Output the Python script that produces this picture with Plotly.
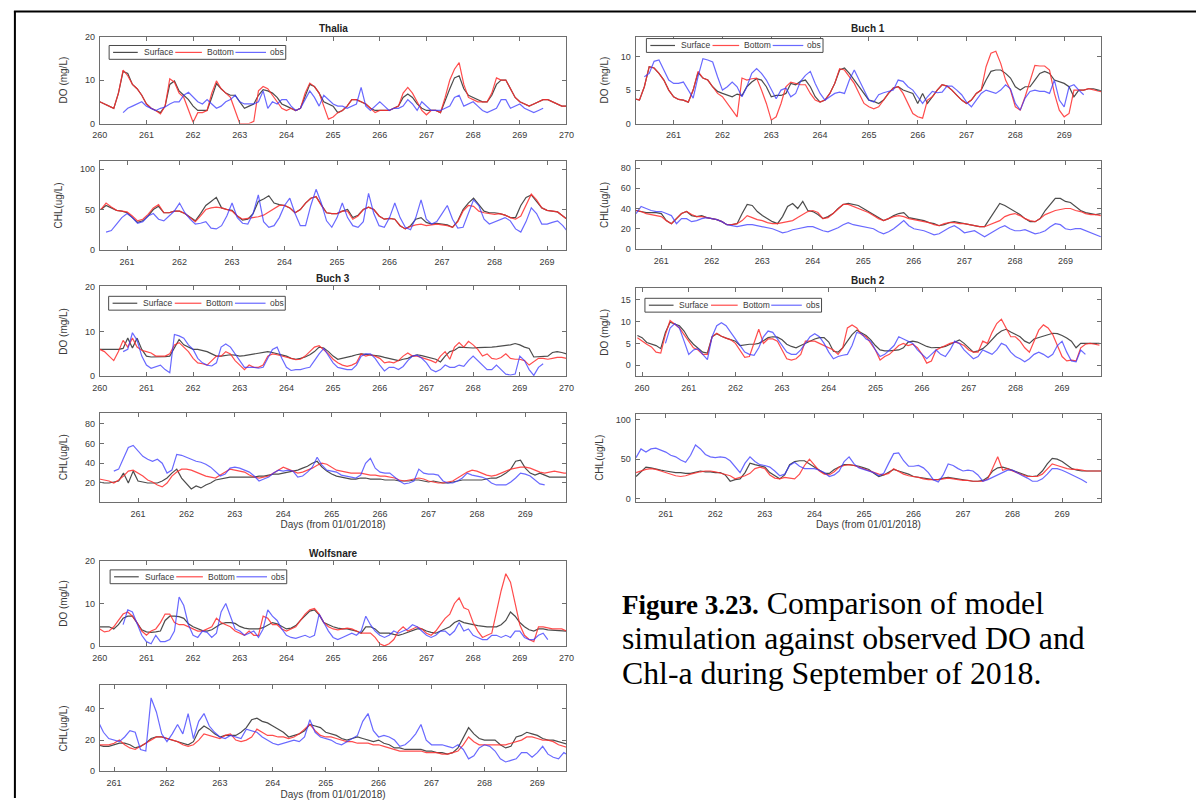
import numpy as np
import plotly.graph_objects as go

W, H = 1204, 803

# ---------------- Thalia ----------------
thalia_do_t0 = 260.0
thalia_do_sur = [
    5.0, 4.5, 4.0, 3.5, 7.0, 12.0, 11.5, 9.0, 8.0, 6.5,
    4.5, 3.5, 3.0, 2.5, 4.0, 9.0, 9.8, 7.5, 6.5, 5.5,
    4.0, 3.0, 3.0, 3.0, 6.0, 9.2, 8.0, 7.0, 6.5, 6.5,
    5.0, 3.5, 4.0, 4.5, 6.5, 7.8, 7.5, 7.0, 6.0, 4.5,
    4.0, 3.5, 3.0, 3.5, 6.5, 9.0, 8.5, 7.0, 5.0, 4.5,
    4.0, 2.5, 3.0, 4.0, 5.5, 5.5, 5.0, 4.5, 3.5, 3.0,
    3.0, 3.0, 3.0, 3.5, 4.0, 6.0, 6.8, 6.0, 4.5, 3.5,
    3.0, 3.0, 3.0, 2.5, 5.5, 8.0, 10.5, 11.0, 8.0, 6.5,
    6.0, 5.5, 5.0, 5.0, 6.5, 9.0, 10.0, 10.0, 8.0, 6.0,
    5.0, 4.5, 4.0, 4.5, 5.0, 5.5, 5.5, 5.0, 4.5, 4.0,
    4.0]
thalia_do_bot = [
    5.0, 4.5, 4.0, 3.5, 7.0, 12.3, 11.0, 9.0, 8.0, 6.5,
    4.5, 3.5, 3.0, 2.2, 4.0, 10.3, 9.5, 7.0, 6.0, 3.0,
    0.3, 2.5, 2.5, 3.0, 7.0, 9.8, 8.0, 7.0, 6.0, 3.0,
    0.0, 0.0, 0.0, 0.5, 7.5, 8.5, 8.0, 6.5, 5.0, 3.5,
    3.0, 3.5, 3.0, 3.5, 7.0, 9.3, 8.5, 7.0, 4.0, 1.0,
    1.5, 2.5, 3.0, 4.0, 5.5, 5.5, 5.0, 4.5, 3.5, 2.5,
    3.0, 3.0, 3.0, 3.5, 4.0, 7.0, 8.3, 7.0, 5.0, 3.0,
    2.0, 3.0, 3.0, 2.5, 6.0, 10.0, 12.5, 14.0, 9.0, 6.0,
    5.5, 5.0, 5.0, 5.0, 7.0, 10.5, 10.0, 10.0, 8.0, 6.0,
    5.0, 4.5, 4.0, 4.5, 5.0, 5.5, 5.5, 5.0, 4.5, 4.0,
    4.0]
thalia_do_obs = [
    None, None, None, None, None, 2.5, 3.5, 4.0, 4.5, 5.0,
    4.0, 3.5, 3.0, 3.5, 3.8, 4.5, 5.0, 5.0, 6.5, 7.2,
    6.0, 5.0, 4.5, 5.5, 4.5, 3.5, 4.0, 5.0, 5.5, 6.5,
    5.0, 4.5, 4.5, 4.5, 5.0, 7.5, 3.5, 5.0, 4.5, 5.5,
    5.5, 4.0, 3.0, 3.5, 5.5, 7.5, 6.0, 4.0, 6.5, 5.5,
    4.5, 4.0, 4.0, 3.5, 4.0, 4.5, 8.3, 4.0, 3.0, 4.0,
    5.0, 4.0, 3.0, 3.5, 3.5, 4.0, 5.5, 4.5, 3.0, 5.0,
    4.0, 3.0, 3.0, 3.0, 3.5, 4.0, 6.0, 6.5, 4.0, 4.5,
    5.0, 4.0, 3.0, 2.5, 3.0, 3.5, 5.5, 5.5, 3.5, 4.0,
    4.5, 3.5, 3.0, 2.5, 3.0, 3.5, None, None, None, None,
    None]

thalia_chl_t0 = 260.5
thalia_chl_sur = [
    50, 55, 52, 49, 48,
    46, 40, 34, 36, 42, 50, 54, 46, 46, 48,
    48, 45, 40, 36, 45, 55, 60, 65, 52, 50,
    49, 42, 37, 38, 45, 60, 63, 67, 58, 56,
    55, 52, 46, 50, 58, 64, 66, 56, 46, 45,
    45, 48, 50, 40, 43, 50, 53, 50, 42, 38,
    39, 38, 30, 26, 30, 38, 40, 34, 32, 33,
    32, 31, 28, 36, 50, 58, 64, 56, 48, 46,
    46, 45, 43, 40, 40, 55, 65, 68, 60, 52,
    49, 48, 47, 42, 37]
thalia_chl_bot = [
    50, 58, 53, 49, 48,
    47, 42, 36, 38, 44, 52, 56, 46, 46, 48,
    48, 45, 40, 35, 42, 50, 52, 53, 52, 50,
    48, 42, 38, 39, 40, 41, 43, 47, 52, 55,
    55, 52, 46, 50, 58, 64, 66, 55, 46, 45,
    45, 48, 48, 38, 42, 50, 53, 50, 42, 38,
    39, 38, 30, 26, 29, 31, 32, 30, 31, 32,
    31, 30, 28, 35, 48, 55, 54, 48, 46, 45,
    44, 45, 43, 40, 38, 42, 55, 69, 62, 52,
    49, 48, 47, 42, 37]
thalia_chl_obs = [
    None, 22, 24, 32, 40,
    45, 40, 33, 35, 42, 45, 38, 36, 42, 48,
    58, 46, 38, 32, 33, 35, 27, 26, 30, 42,
    58, 40, 33, 32, 45, 68, 35, 28, 30, 40,
    55, 64, 45, 30, 30, 55, 75, 58, 36, 28,
    40, 58, 40, 30, 28, 35, 70, 45, 30, 28,
    40, 58, 40, 28, 25, 40, 62, 38, 32, 35,
    45, 55, 38, 27, 28, 45, 62, 55, 38, 32,
    35, 38, 40, 36, 26, 22, 35, 52, 45, 32,
    32, 34, 36, 30, 22]

# ---------------- Buch 1 ----------------
buch1_do_t0 = 260.2
buch1_do_sur = [
    3.7, 3.5, 5.5, 8.5, 8.3, 7.5, 6.5, 5.0,
    4.0, 3.6, 3.5, 3.2, 5.0, 7.6, 6.8, 6.5, 5.5, 4.8,
    4.5, 4.3, 4.0, 4.4, 4.2, 5.5, 6.2, 6.7, 6.5, 5.5,
    4.0, 4.2, 4.2, 4.5, 6.0, 5.8, 6.3, 6.5, 5.5, 4.0,
    3.2, 3.5, 4.5, 6.0, 8.0, 8.3, 7.5, 6.5, 5.5, 4.5,
    3.5, 3.3, 3.0, 3.5, 4.5, 5.3, 5.5, 5.0, 4.8, 4.5,
    3.0, 4.5, 3.0, 4.0, 5.0, 5.8, 5.6, 5.0, 4.2, 3.5,
    3.0, 3.5, 4.5, 5.0, 6.5, 7.8, 8.0, 8.0, 7.5, 6.8,
    5.5, 5.0, 5.5, 5.5, 6.5, 7.5, 7.8, 7.5, 6.5, 6.2,
    6.0, 5.5, 4.0, 5.0, 5.0, 5.2, 5.2, 5.0, 4.8]
buch1_do_bot = [
    3.7, 3.5, 5.5, 8.5, 8.3, 7.5, 6.5, 5.0,
    4.0, 3.6, 3.5, 3.2, 5.0, 7.8, 6.8, 6.5, 5.5, 4.5,
    4.0, 3.0, 2.0, 1.0, 6.8, 6.5, 6.7, 6.8, 5.0, 3.0,
    0.5, 1.0, 3.0, 5.5, 6.2, 6.0, 5.8, 5.8, 4.5, 3.5,
    3.2, 3.5, 4.5, 6.0, 8.2, 8.0, 7.0, 6.0, 4.5, 3.0,
    2.5, 2.2, 2.5, 3.5, 4.5, 5.3, 5.5, 4.5, 3.0, 1.5,
    1.0, 0.8, 3.5, 4.0, 5.0, 5.8, 5.6, 5.0, 4.2, 3.5,
    3.0, 3.5, 4.5, 5.0, 8.5, 10.5, 10.8, 9.0, 6.5, 5.0,
    2.5, 2.0, 4.0, 6.5, 8.7, 8.6, 8.6, 8.0, 4.5, 2.0,
    1.0, 1.5, 5.0, 5.0, 5.0, 5.2, 5.0, 4.8, 4.7]
buch1_do_obs = [
    None, None, 7.0, 7.5, 9.3, 9.5, 8.0, 6.5,
    6.0, 6.0, 6.2, 5.0, 3.8, 7.0, 9.7, 9.5, 9.2, 7.0,
    5.0, 5.5, 6.2, 5.5, 4.0, 5.5, 7.5, 8.2, 7.5, 6.5,
    5.0, 3.7, 5.0, 5.3, 4.0, 4.5, 6.3, 7.2, 7.8, 6.0,
    4.5, 3.5, 4.0, 4.5, 4.7, 4.5, 6.5, 8.0, 6.5, 5.0,
    3.5, 3.2, 4.3, 4.6, 4.8, 5.0, 6.5, 6.3, 5.5, 5.0,
    4.0, 3.0, 4.0, 4.8, 4.6, 4.7, 5.6, 5.6, 5.0, 4.3,
    3.2, 2.5, 3.5, 4.5, 5.0, 4.8, 4.5, 5.0, 5.8, 5.2,
    3.0, 2.0, 3.8, 4.8, 5.0, 4.8, 4.8, 4.5, 6.5, 3.5,
    2.5, 5.5, 5.8, 5.0, 4.3, None, None, None, None]

buch1_chl_t0 = 260.5
buch1_chl_sur = [
    38, 37, 36, 36, 36,
    35, 28, 25, 30, 35, 37, 33, 32, 33, 31,
    30, 29, 27, 24, 24, 25, 35, 44, 43, 37,
    33, 30, 27, 25, 32, 42, 45, 40, 47, 38,
    37, 34, 30, 32, 35, 40, 44, 45, 44, 43,
    40, 37, 34, 31, 28, 30, 33, 35, 36, 31,
    30, 29, 28, 26, 25, 23, 24, 26, 27, 26,
    25, 24, 23, 22, 22, 30, 38, 45, 43, 40,
    37, 34, 30, 27, 27, 30, 38, 44, 50, 50,
    47, 46, 42, 38, 36, 35, 34, 35]
buch1_chl_bot = [
    38, 37, 35, 34, 33,
    32, 28, 25, 30, 35, 37, 34, 32, 32, 31,
    30, 29, 27, 24, 24, 25, 28, 33, 31, 29,
    28, 26, 25, 25, 26, 27, 28, 31, 34, 37,
    38, 36, 30, 31, 35, 40, 44, 44, 42, 40,
    38, 36, 33, 30, 28, 30, 32, 33, 32, 30,
    29, 28, 27, 26, 24, 23, 25, 26, 26, 25,
    25, 24, 23, 22, 22, 24, 26, 28, 32, 34,
    35, 33, 30, 28, 27, 30, 34, 36, 38, 39,
    40, 40, 38, 37, 35, 34, 34, 33]
buch1_chl_obs = [
    35, 42, 40, 38, 37,
    37, 35, 33, 25, 30, 30, 27, 28, 30, 31,
    30, 29, 27, 24, 23, 22, 23, 24, 24, 23,
    22, 21, 20, 18, 16, 17, 19, 20, 21, 22,
    22, 20, 18, 17, 19, 21, 24, 26, 24, 23,
    22, 21, 20, 17, 15, 17, 20, 24, 28, 23,
    20, 19, 18, 16, 14, 15, 18, 21, 23, 20,
    16, 17, 18, 15, 12, 15, 18, 21, 23, 20,
    18, 18, 19, 17, 15, 16, 18, 22, 25, 24,
    20, 19, 20, 20, 18, 16, 14, 12]

# ---------------- Buch 3 ----------------
buch3_do_t0 = 260.0
buch3_do_sur = [
    6.0, 6.0, 6.0, 6.0, 6.0, 6.2, 8.5, 6.3, 8.5, 6.0,
    4.5, 4.3, 4.3, 4.3, 4.4, 4.5, 6.5, 8.2, 7.0, 6.5,
    6.0, 6.0, 5.8, 5.5, 5.0, 4.5, 4.5, 4.7, 4.8, 4.7,
    4.5, 4.6, 4.8, 5.0, 5.2, 5.4, 5.5, 5.3, 5.0, 4.7,
    4.5, 4.0, 3.8, 4.0, 4.3, 4.8, 5.5, 6.5, 6.3, 5.5,
    4.5, 3.8, 4.0, 4.2, 4.5, 4.8, 5.0, 4.9, 4.8, 4.6,
    4.5, 4.2, 4.0, 3.7, 3.5, 3.8, 4.0, 4.5, 4.8, 4.6,
    4.3, 4.0, 3.8, 3.2, 4.5, 5.5, 5.8, 6.5, 6.4, 6.3,
    6.3, 6.4, 6.4, 6.5, 6.5, 6.6, 6.7, 6.8, 7.0, 7.3,
    7.0, 6.5, 6.2, 4.3, 4.4, 4.5, 4.5, 5.3, 5.5, 5.3,
    5.0]
buch3_do_bot = [
    6.0, 5.5, 4.5, 3.5, 5.5, 8.0, 6.5, 8.5, 6.5, 5.8,
    5.5, 5.2, 4.5, 4.5, 4.5, 5.0, 7.0, 7.5, 6.5, 5.5,
    4.0, 3.0, 2.8, 2.5, 3.5, 4.5, 4.5, 5.5, 5.0, 3.5,
    2.5, 1.5, 2.5, 2.0, 2.0, 2.5, 4.5, 5.0, 4.8, 4.5,
    4.3, 4.0, 3.7, 3.8, 4.5, 5.5, 6.5, 6.8, 6.0, 5.0,
    3.8, 3.0, 2.5, 2.2, 2.5, 3.0, 5.0, 4.5, 4.8, 4.5,
    4.0, 3.0, 3.2, 3.0, 3.5, 4.5, 5.2, 4.5, 4.5, 4.2,
    3.8, 3.5, 3.0, 4.5, 5.5, 3.8, 6.5, 7.5, 6.5, 7.8,
    7.0, 6.0, 4.5, 5.0, 4.0, 3.8, 4.2, 5.0, 4.0, 3.8,
    3.8, 3.5, 2.5, 3.2, 4.0, 4.0, 3.8, 4.0, 4.2, 4.2,
    4.0]
buch3_do_obs = [
    None, None, None, None, None, 5.5, 6.0, 9.7, 8.0, 4.5,
    2.5, 1.8, 2.2, 2.5, 1.5, 0.8, 9.3, 9.0, 8.5, 7.0,
    6.0, 4.0, 3.0, 2.5, 2.3, 3.0, 6.5, 7.2, 6.5, 5.0,
    3.5, 2.0, 2.0, 2.0, 1.8, 2.0, 4.0, 6.0, 6.5, 4.0,
    2.0, 1.3, 1.5, 1.5, 1.8, 2.0, 3.5, 5.0, 6.2, 4.5,
    3.0, 2.0, 1.8, 1.5, 1.5, 2.5, 4.5, 5.0, 5.0, 4.0,
    2.5, 1.2, 2.0, 2.0, 1.5, 2.2, 3.5, 4.5, 4.7, 4.0,
    3.0, 1.5, 1.0, 1.5, 2.5, 2.0, 2.0, 2.5, 2.2, 3.5,
    4.5, 3.5, 2.5, 1.5, 1.5, 2.5, 1.5, 0.5, 0.3, 0.5,
    4.5, 3.5, 1.5, 0.2, 2.0, 2.8, None, None, None, None,
    None]

buch3_chl_t0 = 260.2
buch3_chl_sur = [
    21, 20, 20, 21, 22, 30, 20, 32,
    22, 21, 20, 20, 20, 22, 25, 30, 34, 25,
    20, 14, 17, 15, 18, 20, 23, 24, 25, 26,
    26, 26, 26, 26, 26, 27, 27, 28, 29, 29,
    30, 31, 32, 33, 35, 37, 40, 42, 36, 32,
    29, 27, 26, 25, 24, 24, 25, 25, 24, 24,
    24, 23, 23, 23, 22, 22, 22, 23, 23, 22,
    21, 22, 21, 20, 20, 21, 22, 23, 23, 23,
    23, 23, 24, 25, 25, 27, 30, 34, 42, 43,
    35, 30, 28, 30, 28, 26, 26, 26, 26, 26]
buch3_chl_bot = [
    24, 23, 22, 20, 23, 27, 32, 33,
    30, 27, 23, 21, 18, 16, 20, 27, 31, 34,
    34, 33, 31, 29, 27, 26, 25, 28, 31, 34,
    33, 32, 31, 28, 26, 25, 26, 27, 30, 33,
    36, 34, 32, 30, 31, 33, 35, 38, 40, 39,
    36, 33, 32, 31, 30, 30, 30, 29, 28, 28,
    27, 27, 26, 25, 23, 22, 23, 24, 25, 24,
    22, 21, 20, 20, 21, 22, 25, 28, 31, 33,
    32, 30, 28, 27, 28, 30, 32, 34, 35, 36,
    36, 35, 33, 31, 30, 31, 32, 31, 30, 30]
buch3_chl_obs = [
    None, None, None, 32, 34, 45, 56, 58,
    52, 47, 44, 42, 44, 40, 30, 33, 49, 48,
    46, 44, 42, 41, 39, 36, 31, 27, 29, 35,
    36, 35, 33, 31, 27, 22, 24, 26, 30, 33,
    32, 33, 32, 26, 27, 31, 36, 46, 38, 33,
    32, 31, 28, 27, 26, 25, 28, 40, 45, 35,
    31, 30, 30, 26, 22, 19, 20, 22, 34, 30,
    29, 29, 28, 22, 20, 20, 22, 25, 30, 28,
    27, 26, 24, 20, 18, 18, 18, 21, 25, 30,
    29, 27, 23, 19, 18, None, None, None, None, None]

# ---------------- Buch 2 ----------------
buch2_do_t0 = 259.9
buch2_do_sur = [
    6.8,
    6.3, 5.2, 4.8, 4.5, 3.8, 7.5, 9.8, 9.4, 9.0, 7.8,
    6.0, 4.8, 4.0, 3.0, 2.8, 6.5, 7.2, 6.6, 6.2, 5.8,
    5.5, 4.5, 4.7, 4.8, 4.8, 5.0, 5.6, 6.3, 6.5, 6.4,
    5.8, 4.8, 4.3, 4.0, 4.5, 5.0, 5.5, 6.0, 6.3, 6.3,
    5.3, 3.2, 3.0, 4.0, 5.5, 7.0, 8.0, 7.4, 6.8, 5.8,
    4.5, 3.5, 3.3, 3.3, 3.4, 3.5, 4.0, 5.3, 5.5, 5.3,
    4.8, 4.3, 4.0, 4.0, 4.1, 4.3, 4.8, 5.3, 5.8, 5.0,
    4.0, 3.0, 3.3, 3.8, 4.7, 5.8, 7.0, 7.8, 8.2, 7.6,
    7.0, 6.5, 5.5, 5.0, 6.0, 6.3, 6.6, 7.0, 7.3, 7.2,
    6.8, 6.2, 5.5, 4.0, 5.0, 5.0, 5.0, 5.0, 5.0]
buch2_do_bot = [
    6.3,
    5.5, 4.8, 4.2, 3.0, 2.8, 7.0, 10.2, 9.4, 8.5, 7.0,
    5.5, 4.0, 3.5, 2.5, 2.5, 6.5, 7.3, 6.6, 6.2, 5.8,
    5.0, 3.5, 1.8, 2.0, 5.0, 8.2, 5.0, 6.0, 6.0, 5.5,
    3.5, 1.5, 1.2, 1.5, 2.5, 5.5, 5.5, 5.5, 5.0, 4.5,
    4.0, 3.5, 2.5, 4.0, 8.5, 9.2, 8.5, 7.0, 6.5, 5.0,
    3.5, 1.2, 2.0, 2.5, 3.5, 4.5, 5.0, 4.5, 4.8, 4.0,
    2.5, 0.5, 1.0, 3.5, 4.0, 4.5, 5.0, 5.3, 5.0, 4.5,
    3.5, 3.0, 3.0, 5.5, 5.0, 7.5, 9.5, 10.5, 8.5, 6.5,
    6.5, 5.5, 4.0, 3.0, 5.5, 8.0, 9.2, 8.5, 7.0, 4.5,
    2.0, 1.0, 1.2, 1.0, 4.0, 4.8, 5.0, 4.8, 4.6]
buch2_do_obs = [
    None,
    None, None, None, None, None, 5.0, 8.5, 9.5, 8.5, 5.5,
    2.5, 3.5, 3.8, 2.5, 1.3, 6.5, 9.0, 9.7, 9.0, 7.5,
    6.0, 4.5, 3.0, 2.5, 2.3, 4.0, 6.5, 7.8, 7.5, 6.0,
    4.5, 3.0, 2.5, 2.5, 3.5, 5.0, 6.5, 7.2, 6.5, 5.0,
    3.0, 1.5, 2.0, 2.3, 2.5, 4.5, 7.5, 7.2, 6.0, 5.5,
    3.5, 2.0, 2.5, 3.5, 4.5, 6.5, 6.0, 5.5, 5.0, 3.5,
    2.5, 1.5, 2.5, 3.5, 2.5, 2.0, 3.5, 5.5, 5.0, 3.5,
    2.5, 1.5, 2.0, 3.5, 3.0, 2.5, 3.5, 5.0, 4.5, 3.0,
    2.0, 1.5, 0.8, 1.5, 2.5, 3.0, 2.5, 1.8, 2.5, 4.5,
    5.5, 3.0, 1.0, 0.8, 3.5, 2.5, None, None, None]

buch2_chl_t0 = 260.4
buch2_chl_sur = [
    28, 34, 40, 39, 37, 36,
    35, 34, 33, 33, 32, 32, 34, 35, 34, 34,
    33, 33, 30, 22, 24, 25, 33, 45, 43, 41,
    40, 33, 29, 25, 30, 43, 47, 48, 48, 44,
    40, 37, 32, 32, 37, 40, 43, 43, 42, 41,
    39, 37, 32, 28, 30, 33, 37, 35, 33, 31,
    28, 27, 26, 25, 24, 24, 26, 27, 26, 25,
    24, 23, 22, 22, 23, 27, 35, 39, 40, 38,
    36, 34, 31, 29, 28, 29, 35, 44, 51, 50,
    47, 42, 38, 36, 35, 35, 35, 35, 35]
buch2_chl_bot = [
    33, 35, 37, 38, 37, 35,
    33, 31, 29, 28, 29, 31, 33, 34, 35, 35,
    34, 32, 31, 29, 25, 27, 29, 32, 38, 40,
    38, 30, 26, 25, 27, 26, 25, 31, 42, 50,
    42, 35, 31, 30, 34, 40, 42, 43, 42, 40,
    37, 35, 33, 31, 30, 32, 38, 34, 31, 29,
    28, 27, 25, 24, 24, 24, 25, 26, 25, 24,
    23, 23, 22, 22, 22, 25, 38, 53, 36, 38,
    35, 32, 30, 28, 28, 28, 31, 38, 44, 42,
    40, 38, 37, 37, 36, 35, 35, 35, 35]
buch2_chl_obs = [
    52, 63, 59, 63, 64, 62,
    59, 55, 53, 49, 46, 55, 68, 63, 56, 53,
    52, 53, 52, 48, 40, 33, 45, 53, 47, 43,
    42, 40, 35, 29, 31, 42, 46, 41, 38, 38,
    38, 36, 33, 28, 30, 35, 47, 53, 44, 39,
    37, 35, 33, 29, 32, 45, 57, 58, 48, 41,
    41, 42, 39, 33, 24, 21, 30, 44, 42, 38,
    35, 36, 35, 30, 22, 24, 27, 31, 34, 36,
    36, 32, 29, 26, 22, 22, 25, 31, 38, 38,
    36, 33, 30, 28, 24, 20, None, None, None]

# ---------------- Wolfsnare ----------------
wolf_do_t0 = 260.0
wolf_do_sur = [
    4.5, 4.5, 4.5, 4.0, 5.0, 6.5, 7.0, 7.0, 5.5, 3.8,
    3.3, 3.2, 3.3, 3.5, 6.0, 7.0, 7.0, 6.9, 6.5, 5.2,
    4.5, 4.0, 3.6, 3.5, 3.8, 4.5, 5.2, 5.5, 5.5, 5.3,
    4.6, 4.2, 4.0, 4.0, 4.0, 4.3, 5.0, 5.5, 5.2, 4.5,
    4.0, 4.2, 4.8, 6.0, 7.2, 8.2, 8.5, 7.3, 5.5, 5.0,
    4.5, 4.2, 4.0, 4.0, 3.8, 3.5, 3.0, 4.5, 4.5, 4.0,
    3.0, 3.0, 3.0, 2.7, 2.5, 2.8, 3.2, 3.6, 4.0, 4.0,
    3.5, 3.2, 3.0, 3.5, 4.0, 4.5, 5.5, 6.0, 5.5, 5.2,
    5.0, 4.8, 4.6, 4.5, 4.5, 4.5, 5.0, 6.0, 8.0, 7.0,
    5.5, 4.5, 3.8, 3.5, 4.0, 4.0, 3.8, 3.7, 3.6, 3.6,
    3.5]
wolf_do_bot = [
    4.0, 3.3, 3.5, 4.5, 6.0, 7.5, 8.0, 7.0, 5.5, 3.5,
    2.5, 3.5, 4.0, 5.5, 7.5, 7.5, 5.5, 5.0, 5.0, 4.5,
    4.0, 3.5, 3.5, 4.0, 4.5, 6.5, 5.5, 5.0, 4.5, 3.5,
    3.0, 2.5, 3.5, 2.5, 2.5, 7.0, 6.5, 5.0, 5.0, 4.0,
    3.5, 4.0, 4.5, 6.0, 7.5, 8.5, 8.8, 7.5, 5.5, 4.5,
    4.0, 3.8, 4.0, 4.2, 4.0, 3.5, 3.0, 3.0, 3.0, 2.0,
    0.5, 0.0, 0.5, 1.5, 3.5, 4.5, 3.5, 4.0, 4.5, 4.0,
    3.0, 2.5, 3.5, 5.0, 6.5, 7.5, 10.0, 11.3, 9.0, 8.5,
    5.5, 3.5, 2.0, 2.5, 3.0, 8.0, 13.0, 17.0, 15.0, 10.0,
    5.0, 2.5, 1.5, 1.0, 4.5, 4.5, 4.2, 4.0, 4.0, 4.0,
    3.5]
wolf_do_obs = [
    None, None, None, None, None, 5.0, 8.5, 8.0, 5.0, 2.5,
    1.0, 0.5, 2.5, 1.0, 1.0, 1.5, 3.5, 11.5, 9.5, 5.0,
    2.5, 2.0, 3.5, 3.2, 2.0, 3.0, 8.0, 10.0, 7.0, 4.0,
    3.5, 2.5, 3.0, 3.5, 2.0, 4.0, 8.5, 7.0, 6.0, 4.0,
    2.5, 2.0, 1.8, 2.2, 2.5, 2.0, 2.5, 7.5, 5.5, 3.5,
    2.0, 1.5, 2.0, 2.5, 3.0, 2.5, 3.5, 7.0, 5.0, 3.5,
    2.5, 2.0, 2.5, 3.5, 3.0, 3.5, 4.0, 5.0, 4.5, 3.5,
    2.5, 2.0, 2.5, 3.5, 3.5, 2.5, 3.5, 5.5, 3.5, 4.0,
    2.5, 2.0, 1.5, 1.5, 2.5, 2.5, 2.0, 2.5, 2.0, 3.5,
    3.5, 2.0, 1.5, 1.5, 2.5, 3.0, 1.5, None, None, None,
    None]

wolf_chl_t0 = 260.7
wolf_chl_sur = [
    17, 16, 16,
    17, 18, 18, 17, 15, 16, 18, 21, 22, 22,
    21, 20, 19, 18, 17, 19, 26, 29, 27, 24,
    22, 23, 23, 23, 25, 28, 33, 34, 32, 31,
    29, 27, 25, 22, 23, 24, 26, 30, 29, 28,
    25, 24, 23, 21, 20, 21, 22, 21, 20, 19,
    20, 18, 17, 15, 15, 14, 14, 14, 14, 13,
    13, 12, 12, 11, 12, 15, 22, 28, 24, 21,
    20, 20, 20, 17, 15, 16, 22, 23, 25, 24,
    23, 21, 20, 20, 19, 18, 17]
wolf_chl_bot = [
    17, 17, 17,
    18, 20, 17, 15, 14, 16, 18, 20, 22, 22,
    21, 20, 19, 17, 16, 17, 20, 24, 23, 22,
    21, 23, 24, 20, 19, 20, 22, 27, 25, 23,
    23, 22, 22, 21, 22, 24, 27, 30, 26, 23,
    22, 22, 21, 20, 19, 19, 18, 18, 18, 17,
    17, 16, 15, 14, 13, 13, 13, 13, 13, 12,
    12, 12, 11, 11, 12, 13, 17, 22, 19, 17,
    17, 17, 17, 17, 17, 18, 19, 20, 22, 22,
    21, 20, 20, 19, 17, 16, 15]
wolf_chl_obs = [
    32, 25, 21,
    20, 19, 22, 26, 25, 14, 13, 47, 38, 24,
    19, 24, 30, 24, 37, 21, 32, 37, 29, 25,
    22, 21, 23, 22, 21, 27, 26, 25, 22, 20,
    18, 17, 18, 19, 20, 19, 22, 33, 25, 22,
    21, 20, 18, 17, 19, 21, 23, 32, 37, 26,
    22, 23, 22, 20, 16, 17, 20, 24, 30, 20,
    17, 17, 17, 16, 15, 17, 14, 8, 10, 15,
    17, 16, 13, 8, 6, 7, 8, 12, 12, 9,
    12, 16, 11, 9, 8, 12, 10]

SAMPLE_STEP = 0.1  # model output / sonde interval, days

series_names = ["Surface", "Bottom", "obs"]
series_colors = ["rgba(45,45,45,0.85)", "rgba(255,45,45,0.85)", "rgba(55,55,255,0.75)"]

days_10 = [260, 261, 262, 263, 264, 265, 266, 267, 268, 269, 270]
days_9 = [261, 262, 263, 264, 265, 266, 267, 268, 269]
days_b2 = [260, 261, 262, 263, 264, 265, 266, 267, 268, 269]

LEFT = (93, 566)
RIGHT = (636, 1108)

panels = [
    dict(title="Thalia", xb=LEFT, yb=(32, 120), t0=thalia_do_t0,
         data=(thalia_do_sur, thalia_do_bot, thalia_do_obs),
         xr=[260, 270], xt=days_10, yr=[0, 20], yt=[0, 10, 20], yl="DO (mg/L)",
         leg=(102.5, 41)),
    dict(xb=LEFT, yb=(158, 248), t0=thalia_chl_t0,
         data=(thalia_chl_sur, thalia_chl_bot, thalia_chl_obs),
         xr=[260.48, 269.37], xt=days_9, yr=[0, 110], yt=[0, 50, 100], yl="CHL(ug/L)"),
    dict(title="Buch 1", xb=RIGHT, yb=(32, 120), t0=buch1_do_t0,
         data=(buch1_do_sur, buch1_do_bot, buch1_do_obs),
         xr=[260.22, 269.76], xt=days_9, yr=[0, 13], yt=[0, 5, 10], yl="DO (mg/L)",
         leg=(647, 34)),
    dict(xb=RIGHT, yb=(158, 247), t0=buch1_chl_t0,
         data=(buch1_chl_sur, buch1_chl_bot, buch1_chl_obs),
         xr=[260.49, 269.71], xt=days_9, yr=[0, 87], yt=[0, 20, 40, 60, 80], yl="CHL(ug/L)"),
    dict(title="Buch 3", xb=LEFT, yb=(285, 376), t0=buch3_do_t0,
         data=(buch3_do_sur, buch3_do_bot, buch3_do_obs),
         xr=[260, 270], xt=days_10, yr=[0, 20], yt=[0, 10, 20], yl="DO (mg/L)",
         leg=(102, 295)),
    dict(xb=LEFT, yb=(413, 503), t0=buch3_chl_t0,
         data=(buch3_chl_sur, buch3_chl_bot, buch3_chl_obs),
         xr=[260.21, 269.85], xt=days_9, yr=[1, 91], yt=[20, 40, 60, 80], yl="CHL(ug/L)",
         xl="Days (from 01/01/2018)"),
    dict(title="Buch 2", xb=RIGHT, yb=(287, 376), t0=buch2_do_t0,
         data=(buch2_do_sur, buch2_do_bot, buch2_do_obs),
         xr=[259.86, 269.84], xt=days_b2, yr=[-2.5, 17.5], yt=[0, 5, 10, 15], yl="DO (mg/L)",
         leg=(645.5, 297)),
    dict(xb=RIGHT, yb=(414, 503), t0=buch2_chl_t0,
         data=(buch2_chl_sur, buch2_chl_bot, buch2_chl_obs),
         xr=[260.39, 269.79], xt=days_9, yr=[-4, 107.5], yt=[0, 50, 100], yl="CHL(ug/L)",
         xl="Days (from 01/01/2018)"),
    dict(title="Wolfsnare", xb=LEFT, yb=(563, 649), t0=wolf_do_t0,
         data=(wolf_do_sur, wolf_do_bot, wolf_do_obs),
         xr=[260, 270], xt=days_10, yr=[0, 20], yt=[0, 10, 20], yl="DO (mg/L)",
         leg=(103.5, 572)),
    dict(xb=LEFT, yb=(689, 776), t0=wolf_chl_t0,
         data=(wolf_chl_sur, wolf_chl_bot, wolf_chl_obs),
         xr=[260.73, 269.55], xt=days_9, yr=[0, 55], yt=[0, 20, 40], yl="CHL(ug/L)",
         xl="Days (from 01/01/2018)"),
]

AX_COLOR = "#6e6e6e"
TXT_COLOR = "#3a3a3a"
FONT = "Liberation Sans, Arial, sans-serif"

# compact in-axes legend box (MATLAB style): sample line spans and label offsets, px
LEG_W, LEG_H = 179, 14
LEG_SAMPLES = [(4, 29), (67, 94), (128, 159)]
LEG_TEXT_X = [33, 97, 161]


def px(x):
    return x / W


def py(y):
    return 1 - y / H


fig = go.Figure()
layout = dict(
    width=W, height=H, margin=dict(l=0, r=0, t=0, b=0),
    paper_bgcolor="white", plot_bgcolor="white",
    font=dict(family=FONT, color=TXT_COLOR, size=9),
    showlegend=False,
    annotations=[], shapes=[],
)

for i, p in enumerate(panels, start=1):
    xa = "x" if i == 1 else f"x{i}"
    ya = "y" if i == 1 else f"y{i}"
    n = len(p["data"][0])
    t = np.round(p["t0"] + SAMPLE_STEP * np.arange(n), 2)

    for name, vals, col in zip(series_names, p["data"], series_colors):
        fig.add_trace(go.Scatter(
            x=t, y=vals, mode="lines", name=name,
            line=dict(color=col, width=1.2), connectgaps=False,
            xaxis=xa, yaxis=ya,
        ))

    x0, x1 = p["xb"]
    y0, y1 = p["yb"]
    axis_common = dict(
        showline=True, linecolor=AX_COLOR, linewidth=1, mirror="ticks",
        ticks="inside", ticklen=4, tickcolor=AX_COLOR, tickwidth=1,
        showgrid=False, zeroline=False,
        tickfont=dict(size=9, color=TXT_COLOR, family=FONT),
    )
    xkey = "xaxis" if i == 1 else f"xaxis{i}"
    ykey = "yaxis" if i == 1 else f"yaxis{i}"
    xaxis = dict(axis_common, domain=[px(x0), px(x1)], anchor=ya,
                 range=p["xr"], tickvals=p["xt"], ticktext=[str(v) for v in p["xt"]],
                 ticklabelstandoff=3)
    if "xl" in p:
        xaxis["title"] = dict(text=p["xl"], font=dict(size=10, color=TXT_COLOR, family=FONT), standoff=3)
    ystand = 15 if x0 < 300 else 10
    yaxis = dict(axis_common, domain=[py(y1), py(y0)], anchor=xa,
                 range=p["yr"], tickvals=p["yt"], ticklabelstandoff=2,
                 title=dict(text=p["yl"], font=dict(size=10, color=TXT_COLOR, family=FONT), standoff=ystand))
    layout[xkey] = xaxis
    layout[ykey] = yaxis

    if "title" in p:
        layout["annotations"].append(dict(
            text=f"<b>{p['title']}</b>", x=px((x0 + x1) / 2), y=py(y0 - 8),
            xref="paper", yref="paper", xanchor="center", yanchor="middle",
            showarrow=False, font=dict(size=10, color="#222222", family=FONT)))

    if "leg" in p:
        lx, ly = p["leg"]
        layout["shapes"].append(dict(
            type="rect", xref="paper", yref="paper",
            x0=px(lx), x1=px(lx + LEG_W), y0=py(ly + LEG_H), y1=py(ly),
            fillcolor="white", line=dict(color="#4a4a4a", width=1)))
        for (s0, s1), tx, name, col in zip(LEG_SAMPLES, LEG_TEXT_X, series_names, series_colors):
            layout["shapes"].append(dict(
                type="line", xref="paper", yref="paper",
                x0=px(lx + s0), x1=px(lx + s1), y0=py(ly + LEG_H / 2), y1=py(ly + LEG_H / 2),
                line=dict(color=col, width=1.2)))
            layout["annotations"].append(dict(
                text=name, x=px(lx + tx), y=py(ly + LEG_H / 2), xref="paper", yref="paper",
                xanchor="left", yanchor="middle", showarrow=False,
                font=dict(size=8.5, color=TXT_COLOR, family=FONT)))

# figure caption
caption_lines = [
    "<span style='font-size:27px'><b>Figure 3.23.</b></span> Comparison of model",
    "simulation against observed DO and",
    "Chl-a during September of 2018.",
]
for k, line in enumerate(caption_lines):
    layout["annotations"].append(dict(
        text=line, x=px(620), y=py(606 + 35.5 * k), xref="paper", yref="paper",
        xanchor="left", yanchor="middle", showarrow=False,
        font=dict(size=31.8, color="black", family="Liberation Serif, Times New Roman, serif")))

# page frame lines (top and left)
layout["shapes"].append(dict(type="line", xref="paper", yref="paper",
                             x0=px(6), x1=1, y0=py(6.5), y1=py(6.5),
                             line=dict(color="black", width=2)))
layout["shapes"].append(dict(type="line", xref="paper", yref="paper",
                             x0=px(7), x1=px(7), y0=0, y1=py(6),
                             line=dict(color="black", width=2)))

fig.update_layout(**layout)
fig.write_html("out.html")
